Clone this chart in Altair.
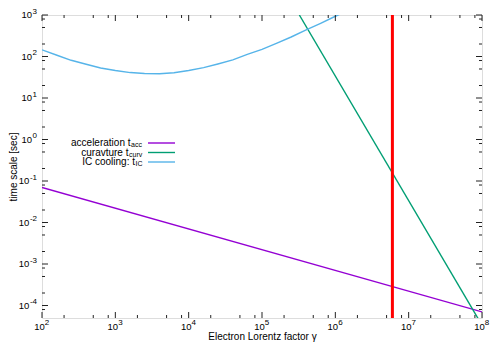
import altair as alt
import pandas as pd

# ---- data ----
acc_gamma = [1e2, 1e8]
acc_time = [7.0e-2, 7.0e-5]

curv_gamma = [3.23e5, 9.0e7]
curv_time = [1.0e3, 4.6e-5]

ic_gamma = [1e2, 1.6e2, 2.5e2, 4e2, 6.3e2, 1e3, 1.6e3, 2.5e3, 4e3, 6.3e3, 1e4,
            1.6e4, 2.5e4, 4e4, 6.3e4, 1e5, 1.6e5, 2.5e5, 4e5, 6.3e5, 1e6, 1.26e6]
ic_time = [145, 107, 81, 65, 53, 46, 41, 39, 38.5, 40.7, 46,
           54, 66, 83, 112, 148, 209, 295, 437, 631, 933, 1120]

red_gamma = [6.0e6]

series_names = ["acceleration", "curvature", "IC"]
series_colors = ["#9400d3", "#009e73", "#56b4e9"]

legend_main = ["acceleration t", "curavture t", "IC cooling: t"]
legend_sub = ["acc", "curv", "IC"]

x_major = [1e2, 1e3, 1e4, 1e5, 1e6, 1e7, 1e8]
x_exp = ["2", "3", "4", "5", "6", "7", "8"]
x_minor = [k * 10 ** e for e in range(2, 8) for k in (2, 5, 8)]
y_major = [1e-4, 1e-3, 1e-2, 1e-1, 1e0, 1e1, 1e2, 1e3]
y_exp = ["-4", "-3", "-2", "-1", "0", "1", "2", "3"]
y_minor = [k * 10.0 ** e for e in range(-5, 3) for k in (2, 5, 8) if 5e-5 < k * 10.0 ** e < 1e3]

W, H = 440, 303
FONT = "Liberation Sans"
LS = 9.5   # tick label size
ES = 8     # exponent size

xs = alt.Scale(type="log", domain=[1e2, 1e8], nice=False)
ys = alt.Scale(type="log", domain=[5e-5, 1e3], nice=False)

xaxis = alt.Axis(values=x_major, labels=False, ticks=False, tickSize=0, domain=False, grid=False,
                 title="Electron Lorentz factor γ", titleFont=FONT, titleFontSize=10,
                 titleFontWeight="normal", titleColor="#000", titleY=18.5, titleBaseline="middle")
yaxis = alt.Axis(values=y_major, labels=False, ticks=False, tickSize=0, domain=False, grid=False,
                 title="time scale [sec]", titleFont=FONT, titleFontSize=10,
                 titleFontWeight="normal", titleColor="#000", titleX=-29, titleBaseline="middle")

X = lambda: alt.X("gamma:Q", scale=xs, axis=xaxis)
Y = lambda: alt.Y("t:Q", scale=ys, axis=yaxis)

rows = []
for name, gx, ty in [("acceleration", acc_gamma, acc_time),
                     ("curvature", curv_gamma, curv_time),
                     ("IC", ic_gamma, ic_time)]:
    for g, t in zip(gx, ty):
        rows.append({"series": name, "gamma": g, "t": t})
df_lines = pd.DataFrame(rows)

lines = alt.Chart(df_lines).mark_line(strokeWidth=1.4, clip=True).encode(
    x=X(), y=Y(),
    color=alt.Color("series:N", scale=alt.Scale(domain=series_names, range=series_colors), legend=None),
)

red = alt.Chart(pd.DataFrame({"gamma": red_gamma})).mark_rule(color="#ff0000", strokeWidth=3).encode(x=X())

layers = [lines, red]

# inward ticks on all four sides
TC = "#222"
for vals, L in [(x_major, 6), (x_minor, 3)]:
    d = pd.DataFrame({"gamma": vals})
    layers.append(alt.Chart(d).mark_rule(color=TC, strokeWidth=1).encode(x=X(), y=alt.value(H), y2=alt.value(H - L)))
    layers.append(alt.Chart(d).mark_rule(color=TC, strokeWidth=1).encode(x=X(), y=alt.value(0), y2=alt.value(L)))
for vals, L in [(y_major, 6), (y_minor, 3)]:
    d = pd.DataFrame({"t": vals})
    layers.append(alt.Chart(d).mark_rule(color=TC, strokeWidth=1).encode(y=Y(), x=alt.value(0), x2=alt.value(L)))
    layers.append(alt.Chart(d).mark_rule(color=TC, strokeWidth=1).encode(y=Y(), x=alt.value(W), x2=alt.value(W - L)))

# tick labels 10^n with real superscripts
dfx = pd.DataFrame({"gamma": x_major, "base": ["10"] * len(x_major), "e": x_exp})
layers.append(alt.Chart(dfx).mark_text(align="center", baseline="middle", font=FONT, fontSize=LS, color="#000", dx=-2.5).encode(
    x=X(), y=alt.value(H + 9), text="base:N"))
layers.append(alt.Chart(dfx).mark_text(align="left", baseline="middle", font=FONT, fontSize=ES, color="#000", dx=2.8).encode(
    x=X(), y=alt.value(H + 5), text="e:N"))

dfy = pd.DataFrame({"t": y_major, "base": ["10"] * len(y_major), "e": y_exp})
dfy_neg = dfy[dfy["e"].str.startswith("-")]
dfy_pos = dfy[~dfy["e"].str.startswith("-")]
layers.append(alt.Chart(dfy_neg).mark_text(align="right", baseline="middle", font=FONT, fontSize=LS, color="#000").encode(
    y=Y(), x=alt.value(-5 - 7.6), text="base:N"))
layers.append(alt.Chart(dfy_pos).mark_text(align="right", baseline="middle", font=FONT, fontSize=LS, color="#000").encode(
    y=Y(), x=alt.value(-5 - 4.9), text="base:N"))
layers.append(alt.Chart(dfy).mark_text(align="right", baseline="middle", font=FONT, fontSize=ES, color="#000", dy=-3.5).encode(
    y=Y(), x=alt.value(-5), text="e:N"))

# key (top-left, text right-justified, sample line to the right)
sub_w = [11.5, 13.5, 7.0]
ycent = [128, 137.5, 147]
text_right = 100
for i in range(3):
    one = pd.DataFrame({"m": [legend_main[i]], "s": [legend_sub[i]]})
    layers.append(alt.Chart(one).mark_text(align="right", baseline="middle", font=FONT, fontSize=10, color="#000").encode(
        text="m:N", x=alt.value(text_right - sub_w[i]), y=alt.value(ycent[i])))
    layers.append(alt.Chart(one).mark_text(align="left", baseline="middle", font=FONT, fontSize=7, color="#000").encode(
        text="s:N", x=alt.value(text_right - sub_w[i] + 0.5), y=alt.value(ycent[i] + 2)))
    layers.append(alt.Chart(one).mark_rule(color=series_colors[i], strokeWidth=1.4).encode(
        x=alt.value(106), x2=alt.value(133), y=alt.value(ycent[i])))

chart = alt.layer(*layers).properties(
    width=W, height=H,
    padding={"left": 34, "top": 7, "right": 10, "bottom": 24},
    autosize=alt.AutoSizeParams(type="none"),
).configure_view(stroke="#000", strokeWidth=1).configure(background="white")

chart.save("out.html", embed_options={"renderer": "svg", "actions": False})
